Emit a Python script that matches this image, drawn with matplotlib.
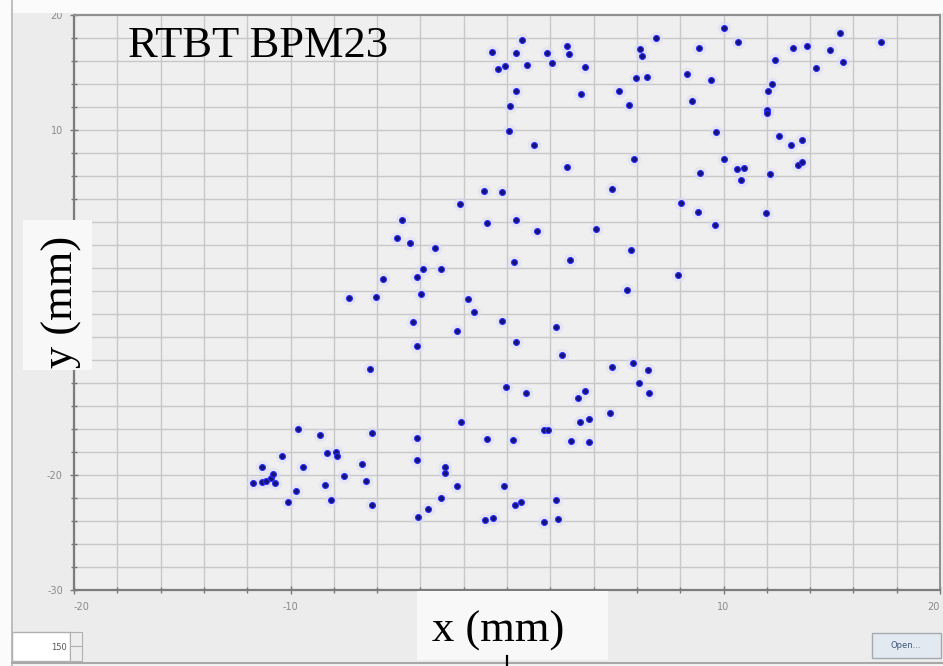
import matplotlib
matplotlib.use("Agg")
import matplotlib.pyplot as plt
from matplotlib.patches import Rectangle
from matplotlib.lines import Line2D
from matplotlib.ticker import MultipleLocator

# Beam position readings at RTBT BPM23 (mm)
x_mm = [
    10.00, 15.38, 0.71, 6.88, 10.66, 17.26, 2.76, 8.87, 13.22, 13.87,
    14.92, -0.71, 0.42, 1.83, 2.86, 6.16, 6.24, 12.39, 15.51, -0.43,
    -0.08, 0.91, 2.09, 3.62, 14.29, 5.94, 6.47, 8.30, 9.41, 12.23,
    0.42, 3.40, 5.17, 12.04, 0.14, 5.62, 8.53, 12.00, 12.00, 0.11,
    9.67, 12.58, 1.26, 13.10, 13.64, 5.88, 10.00, 13.45, 13.61, 2.76,
    8.91, 10.61, 10.96, 10.79, 12.17, -1.08, -0.23, 4.84, 8.02, 8.84,
    11.96, 9.62, -0.94, 0.42, 1.40, 4.10, 5.71, 0.31, 2.90, 7.90,
    5.53, -1.51, -0.23, 2.25,
    -2.17, -4.86, -5.09, -4.48, -3.33, -3.87, -3.05, -4.17, -5.74, -3.99,
    -7.28, -6.06, -1.82, -4.36, -2.30,
    -4.17, -6.33, -2.12, -9.67, -6.25, -8.64, -4.14, -10.38, -8.33, -7.90,
    -7.84, -4.14, -11.30, -9.44, -6.68, -2.86, -2.86, -11.72, -11.33, -11.13,
    -10.91, -10.79, -10.73, -7.53, -6.53, -8.41, -2.30, -9.75, -3.06, -8.12,
    -10.11, -6.22, -3.63, -4.10,
    0.42, 2.55, 4.86, 5.81, 6.53, -0.06, 0.86, 3.29, 3.62, 6.08,
    6.57, 4.77, 3.39, 3.80, 1.71, 1.91, -0.94, 0.26, 2.94, 3.80,
    -0.12, 0.36, 0.63, 2.25, -1.03, -0.66, 1.71, 2.37,
]
y_mm = [
    18.87, 18.46, 17.80, 17.97, 17.65, 17.65, 17.33, 17.16, 17.16, 17.33,
    16.98, 16.76, 16.67, 16.67, 16.58, 17.07, 16.41, 16.09, 15.91, 15.33,
    15.59, 15.68, 15.83, 15.50, 15.42, 14.52, 14.63, 14.87, 14.35, 14.04,
    13.39, 13.13, 13.39, 13.39, 12.06, 12.20, 12.55, 11.74, 11.45, 9.91,
    9.85, 9.50, 8.70, 8.70, 9.10, 7.45, 7.45, 6.98, 7.24, 6.81,
    6.29, 6.58, 6.72, 5.65, 6.15, 4.67, 4.58, 4.90, 3.68, 2.87,
    2.76, 1.77, 1.89, 2.17, 1.22, 1.37, -0.43, -1.50, -1.33, -2.63,
    -3.89, -5.85, -6.58, -7.10,
    3.57, 2.17, 0.63, 0.20, -0.29, -2.09, -2.09, -2.76, -2.98, -4.29,
    -4.63, -4.55, -4.72, -6.67, -7.48,
    -8.76, -10.78, -15.42, -16.00, -16.32, -16.55, -16.81, -18.37, -18.11, -17.97,
    -18.37, -18.70, -19.28, -19.30, -19.04, -19.30, -19.85, -20.72, -20.63, -20.52,
    -20.29, -19.94, -20.72, -20.11, -20.52, -20.91, -20.93, -21.41, -21.97, -22.16,
    -22.32, -22.58, -22.93, -23.63,
    -8.43, -9.59, -10.63, -10.23, -10.90, -12.35, -12.90, -13.28, -12.72, -12.03,
    -12.90, -14.61, -15.42, -15.10, -16.09, -16.09, -16.90, -16.98, -17.07, -17.16,
    -20.93, -22.58, -22.35, -22.17, -23.91, -23.74, -24.06, -23.83,
]

x_limits = (-20, 20)
y_limits = (-30, 20)
# tick labels left visible around the label panels
x_tick_values = [-20, -10, 10, 20]
y_tick_values = [-30, -20, 10, 20]
title_text = "RTBT BPM23"
xlabel_text = "x (mm)"
ylabel_text = "y (mm)"
buffer_size = "150"
button_text = "Open..."

W, H = 943, 666
fig = plt.figure(figsize=(W / 100, H / 100), dpi=100, facecolor="#ececec")


def frac_rect(x0, y0, x1, y1, **kw):
    """Rectangle given in pixel units measured from the top-left corner."""
    r = Rectangle((x0 / W, 1 - y1 / H), (x1 - x0) / W, (y1 - y0) / H,
                  transform=fig.transFigure, **kw)
    fig.patches.append(r)
    return r


def frac_line(x0, y0, x1, y1, **kw):
    ln = Line2D([x0 / W, x1 / W], [1 - y0 / H, 1 - y1 / H],
                transform=fig.transFigure, **kw)
    fig.lines.append(ln)
    return ln


# window chrome: white strips on top/left, bottom control bar
frac_rect(0, 0, W, 13, facecolor="#fbfbfb", edgecolor="none", zorder=0)
frac_rect(0, 0, 12, H, facecolor="#fbfbfb", edgecolor="none", zorder=0)
frac_line(12, 0, 12, H, color="#b4b4b4", lw=1.2, zorder=1)
frac_line(12, 663, W, 663, color="#a8a8a8", lw=1.5, zorder=1)
frac_rect(12, 664, W, H, facecolor="#f4f4f4", edgecolor="none", zorder=0)

ax = fig.add_axes([74 / W, 1 - 590 / H, 866 / W, 575 / H])
ax.set_facecolor("#efefef")
ax.set_xlim(*x_limits)
ax.set_ylim(*y_limits)
ax.set_xticks(x_tick_values)
ax.set_yticks(y_tick_values)
ax.set_xticklabels([str(v) for v in x_tick_values])
ax.set_yticklabels([str(v) for v in y_tick_values])
ax.xaxis.set_minor_locator(MultipleLocator(2))
ax.yaxis.set_minor_locator(MultipleLocator(2))
ax.grid(which="both", color="#c8c8c8", lw=1.0, zorder=0)
ax.set_axisbelow(True)
ax.tick_params(which="both", direction="inout", color="#777777", width=1.0)
ax.tick_params(which="major", length=6, labelsize=7, labelcolor="#8a8a8a")
ax.tick_params(which="minor", length=4)
ax.tick_params(axis="x", which="major", pad=6)
ax.tick_params(axis="y", which="major", pad=5)
xlabels = ax.get_xticklabels()
xlabels[0].set_horizontalalignment("left")
xlabels[-1].set_horizontalalignment("right")
for side in ("left", "bottom"):
    ax.spines[side].set_color("#7c7c7c")
    ax.spines[side].set_linewidth(1.6)
for side in ("top", "right"):
    ax.spines[side].set_color("#8f8f8f")
    ax.spines[side].set_linewidth(1.4)

# soft halo then the dots themselves
ax.scatter(x_mm, y_mm, s=95, c="#dcdcf6", alpha=0.55, linewidths=0, zorder=2)
ax.scatter(x_mm, y_mm, s=18, c="#13137a", edgecolors="#2b2bff",
           linewidths=0.8, zorder=3)

serif = ["Liberation Serif", "DejaVu Serif"]

fig.text(128 / W, 1 - 57 / H, title_text, family=serif, fontsize=32,
         ha="left", va="baseline", color="black", zorder=10)

# y label on its own light panel
frac_rect(23, 220, 92, 370, facecolor="#f8f8f8", edgecolor="none", zorder=8)
fig.text(62 / W, 1 - 302 / H, ylabel_text, family=serif, fontsize=32,
         rotation=90, ha="center", va="center", color="black", zorder=10)

# x label on its own light panel
frac_rect(417, 591, 608, 660, facecolor="#f8f8f8", edgecolor="none", zorder=8)
fig.text(498 / W, 1 - 631 / H, xlabel_text, family=serif, fontsize=32,
         ha="center", va="center", color="black", zorder=10)
frac_line(507, 656, 507, H, color="black", lw=1.6, zorder=11)

# buffer-size spinner
frac_rect(12, 632, 70, 661, facecolor="white", edgecolor="#b0b0b0", lw=1, zorder=5)
frac_rect(70, 632, 82, 646, facecolor="#eeeeee", edgecolor="#b0b0b0", lw=0.8, zorder=5)
frac_rect(70, 646, 82, 661, facecolor="#eeeeee", edgecolor="#b0b0b0", lw=0.8, zorder=5)
fig.text(67 / W, 1 - 647 / H, buffer_size, fontsize=6, ha="right", va="center",
         color="#555555", zorder=6)

# file button
frac_rect(872, 633, 941, 658, facecolor="#e2e9f1", edgecolor="#a6aab0", lw=1, zorder=5)
fig.text(906 / W, 1 - 646 / H, button_text, fontsize=6, ha="center", va="center",
         color="#3f5878", zorder=6)

fig.savefig("out.png", dpi=100, facecolor=fig.get_facecolor())
